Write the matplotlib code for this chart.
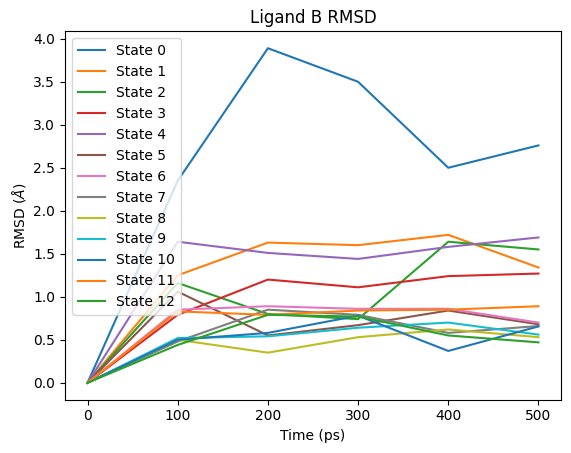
import matplotlib
matplotlib.use("Agg")
import matplotlib.pyplot as plt

time_ps = [0, 100, 200, 300, 400, 500]

state_0 = [0, 2.35, 3.89, 3.50, 2.50, 2.76]
state_1 = [0, 1.25, 1.63, 1.60, 1.72, 1.34]
state_2 = [0, 1.16, 0.80, 0.74, 1.64, 1.55]
state_3 = [0, 0.79, 1.20, 1.11, 1.24, 1.27]
state_4 = [0, 1.64, 1.51, 1.44, 1.58, 1.69]
state_5 = [0, 1.06, 0.55, 0.67, 0.84, 0.68]
state_6 = [0, 0.85, 0.89, 0.86, 0.86, 0.70]
state_7 = [0, 0.48, 0.85, 0.79, 0.58, 0.66]
state_8 = [0, 0.50, 0.35, 0.53, 0.62, 0.53]
state_9 = [0, 0.52, 0.54, 0.64, 0.70, 0.56]
state_10 = [0, 0.50, 0.58, 0.78, 0.37, 0.655]
state_11 = [0, 0.83, 0.79, 0.84, 0.85, 0.89]
state_12 = [0, 0.44, 0.79, 0.77, 0.55, 0.47]

states = [state_0, state_1, state_2, state_3, state_4, state_5, state_6,
          state_7, state_8, state_9, state_10, state_11, state_12]

fig = plt.figure(figsize=(5.71, 4.53), dpi=100)
ax = fig.add_axes([65 / 571, 1 - 399.5 / 453, 496 / 571, 368 / 453])

for i, rmsd in enumerate(states):
    ax.plot(time_ps, rmsd, label="State %d" % i)

ax.set_title("Ligand B RMSD")
ax.set_xlabel("Time (ps)")
ax.set_ylabel(r"RMSD ($\AA$)")
ax.legend(loc="upper left")

fig.savefig("out.png", dpi=100)
